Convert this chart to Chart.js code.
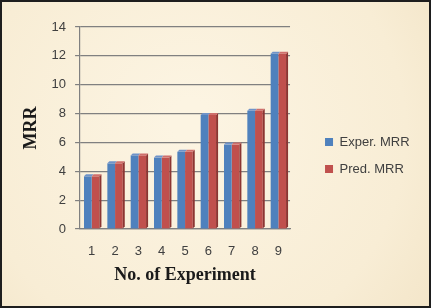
<!DOCTYPE html>
<html>
<head>
<meta charset="utf-8">
<script src="https://cdn.jsdelivr.net/npm/chart.js@4.4.0/dist/chart.umd.min.js"></script>
<style>
  html, body { margin: 0; padding: 0; background: #f9efd8; }
  #wrap { position: relative; width: 431px; height: 308px; }
  #frame {
    position: absolute; left: 0; top: 0; right: 0; bottom: 0;
    border: 2px solid #1e1e1e;
    pointer-events: none;
  }
  canvas { display: block; }
</style>
</head>
<body>
<div id="wrap">
  <canvas id="mrrChart" width="431" height="308"></canvas>
  <div id="frame"></div>
</div>
<script>
// Donnees
const experiments = ["1", "2", "3", "4", "5", "6", "7", "8", "9"];
const experMRR = [3.65, 4.55, 5.1, 4.95, 5.35, 7.9, 5.85, 8.2, 12.15];
const predMRR = [3.65, 4.55, 5.1, 4.95, 5.35, 7.9, 5.85, 8.2, 12.15];
const yTicks = [0, 2, 4, 6, 8, 10, 12, 14];

const blue = "#4f81bd";
const red = "#c0504d";

// Fond beige facon parchemin
const background = {
  id: "background",
  beforeDraw(chart) {
    const c = chart.ctx;
    const g = c.createRadialGradient(190, 120, 20, 190, 140, 300);
    g.addColorStop(0, "#fcf4e2");
    g.addColorStop(0.7, "#f8edd5");
    g.addColorStop(1, "#f3e5c8");
    c.save();
    c.fillStyle = g;
    c.fillRect(0, 0, chart.width, chart.height);
    c.restore();
  }
};

// Petit effet 3D : face du dessus et cote droit des barres
const bar3d = {
  id: "bar3d",
  afterDatasetsDraw(chart) {
    const ctx = chart.ctx;
    const m0 = chart.getDatasetMeta(0).data;
    const m1 = chart.getDatasetMeta(1).data;
    const dx = 2, dy = 2;
    ctx.save();
    m1.forEach((b, i) => {
      const a = m0[i];
      const right = b.x + b.width / 2;
      // cote droit
      ctx.fillStyle = "#8c3532";
      ctx.beginPath();
      ctx.moveTo(right, b.y);
      ctx.lineTo(right + dx, b.y - dy);
      ctx.lineTo(right + dx, b.base - dy);
      ctx.lineTo(right, b.base);
      ctx.closePath();
      ctx.fill();
      // dessus
      const left = a.x - a.width / 2;
      ctx.fillStyle = "#6f93c9";
      ctx.beginPath();
      ctx.moveTo(left, a.y);
      ctx.lineTo(left + dx, a.y - dy);
      ctx.lineTo(a.x + a.width / 2 + dx, a.y - dy);
      ctx.lineTo(a.x + a.width / 2, a.y);
      ctx.closePath();
      ctx.fill();
      ctx.fillStyle = "#cf6f6c";
      ctx.beginPath();
      ctx.moveTo(b.x - b.width / 2, b.y);
      ctx.lineTo(b.x - b.width / 2 + dx, b.y - dy);
      ctx.lineTo(right + dx, b.y - dy);
      ctx.lineTo(right, b.y);
      ctx.closePath();
      ctx.fill();
    });
    ctx.restore();
  }
};

const ctx = document.getElementById("mrrChart").getContext("2d");
new Chart(ctx, {
  type: "bar",
  data: {
    labels: experiments,
    datasets: [
      { label: "Exper. MRR", data: experMRR, backgroundColor: blue },
      { label: "Pred. MRR", data: predMRR, backgroundColor: red }
    ]
  },
  options: {
    responsive: false,
    animation: false,
    layout: { padding: { left: 17, right: 11.4, top: 27, bottom: 24 } },
    datasets: {
      bar: { categoryPercentage: 0.66, barPercentage: 1.0 }
    },
    plugins: {
      legend: {
        position: "right",
        maxWidth: 140,
        labels: {
          boxWidth: 8,
          boxHeight: 8,
          padding: 14,
          color: "#404040",
          font: { family: "Liberation Sans", size: 13 }
        }
      },
      tooltip: { enabled: false }
    },
    scales: {
      x: {
        grid: { display: false, tickLength: 7 },
        border: { color: "#808080", width: 1.2 },
        ticks: {
          color: "#404040",
          padding: 8.5,
          font: { family: "Liberation Sans", size: 13, lineHeight: 1 }
        },
        title: {
          display: true,
          text: "No. of Experiment",
          color: "#1a1a1a",
          padding: { top: 0, bottom: 0 },
          font: { family: "Liberation Serif", size: 18, weight: "bold", lineHeight: 1 }
        }
      },
      y: {
        min: 0,
        max: 14,
        afterBuildTicks: (scale) => {
          scale.ticks = yTicks.map(v => ({ value: v }));
        },
        grid: { color: "#808080", lineWidth: 1.2, tickLength: 5 },
        border: { color: "#808080", width: 1.2 },
        ticks: {
          color: "#404040",
          padding: 9,
          font: { family: "Liberation Sans", size: 13 }
        },
        title: {
          display: true,
          text: "MRR",
          color: "#1a1a1a",
          padding: { top: 4, bottom: 0 },
          font: { family: "Liberation Serif", size: 18, weight: "bold" }
        }
      },
      // axe vide a droite pour ecarter la legende
      gap: {
        position: "right",
        display: true,
        grid: { display: false },
        border: { display: false },
        ticks: { display: false },
        afterFit: (scale) => { scale.width = 21; }
      }
    }
  },
  plugins: [background, bar3d]
});
</script>
</body>
</html>
